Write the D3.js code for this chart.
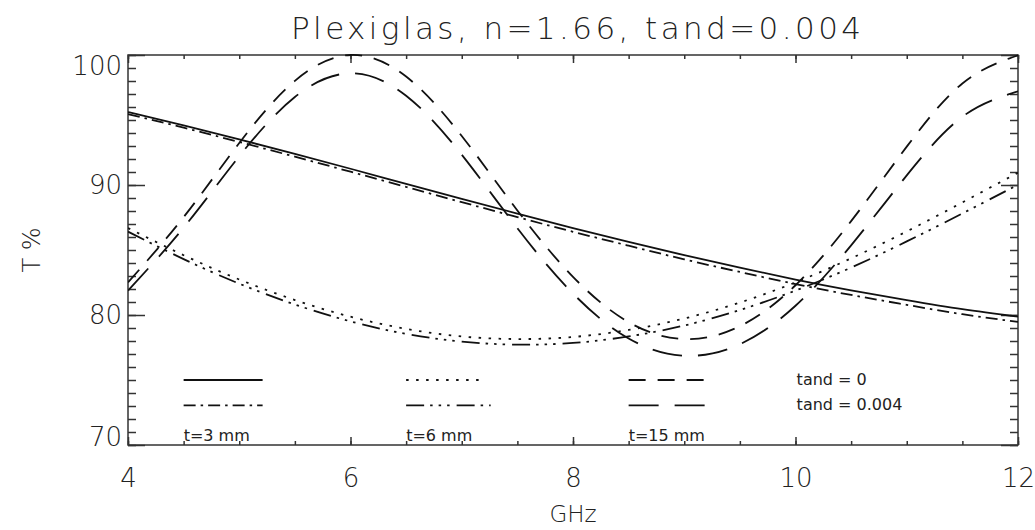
<!DOCTYPE html>
<html>
<head>
<meta charset="utf-8">
<script src="https://cdn.jsdelivr.net/npm/d3@7"></script>
<style>
  body { margin: 0; background: #fff; }
  svg text { font-family: "DejaVu Sans", "Liberation Sans", sans-serif; fill: #222; }
</style>
</head>
<body>
<svg id="chart" width="1035" height="530"></svg>
<script>
// frequency grid (GHz) the curves were read at
const freq = [4, 4.5, 5, 5.5, 6, 6.5, 7, 7.5, 8, 8.5, 9, 9.5, 10, 10.5, 11, 11.5, 12];

// transmission T %
const t3Lossless = [95.61, 94.59, 93.51, 92.39, 91.25, 90.09, 88.94, 87.80, 86.69, 85.63, 84.60, 83.64, 82.73, 81.90, 81.15, 80.45, 79.87];
const t3Lossy = [95.45, 94.41, 93.31, 92.18, 91.02, 89.85, 88.68, 87.53, 86.40, 85.33, 84.28, 83.31, 82.38, 81.54, 80.78, 80.06, 79.47];
const t6Lossless = [86.69, 84.60, 82.73, 81.15, 79.87, 78.93, 78.35, 78.15, 78.31, 78.85, 79.73, 80.96, 82.51, 84.36, 86.43, 88.66, 90.95];
const t6Lossy = [86.41, 84.30, 82.41, 80.81, 79.51, 78.55, 77.95, 77.72, 77.85, 78.35, 79.19, 80.38, 81.88, 83.65, 85.66, 87.81, 90.02];
const t15Lossless = [82.51, 87.53, 93.23, 98.01, 100.0, 98.34, 93.77, 88.04, 82.94, 79.45, 78.15, 79.14, 82.29, 87.22, 92.95, 97.81, 99.98];
const t15Lossy = [81.88, 86.72, 92.21, 96.77, 98.59, 96.87, 92.33, 86.68, 81.65, 78.19, 76.87, 77.75, 80.71, 85.36, 90.74, 95.25, 97.20];

const xMajor = [4, 6, 8, 10, 12];
const yMajor = [70, 80, 90, 100];
const thicknessLabels = ["t=3 mm", "t=6 mm", "t=15 mm"];
const lossLabels = ["tand = 0", "tand = 0.004"];

const title = "Plexiglas, n=1.66, tand=0.004";

const series = [
  { values: t3Lossless, dash: null },
  { values: t3Lossy, dash: "12,5,2.5,5" },
  { values: t6Lossless, dash: "2.5,7.5" },
  { values: t6Lossy, dash: "18,6,2.5,6,2.5,6,2.5,7" },
  { values: t15Lossless, dash: "17,12" },
  { values: t15Lossy, dash: "30,16" },
];

const plotLeft = 128, plotRight = 1018, plotTop = 55, plotBottom = 445;

const svg = d3.select("#chart");

const x = d3.scaleLinear().domain([4, 12]).range([plotLeft, plotRight]);
const y = d3.scaleLinear().domain([70, 100]).range([plotBottom, plotTop]);

// title
svg.append("text")
  .attr("x", 576)
  .attr("y", 39)
  .attr("text-anchor", "middle")
  .attr("font-size", 31)
  .attr("font-weight", 200)
  .attr("textLength", 570)
  .attr("lengthAdjust", "spacing")
  .text(title);

// axes - ticks point inward like the original
const axisStyle = (g) => {
  g.select(".domain").remove();
  g.selectAll("line").attr("stroke", "#333").attr("stroke-width", 1.5);
  g.selectAll("text").attr("fill", "#222").attr("font-weight", 200);
};

const xMinor = d3.range(4, 12.01, 0.5);
const yMinor = d3.range(70, 100.01, 1);

// bottom
svg.append("g")
  .attr("transform", `translate(0,${plotBottom})`)
  .call(d3.axisBottom(x).tickValues(xMinor).tickSize(-4).tickFormat(""))
  .call(axisStyle);
svg.append("g")
  .attr("transform", `translate(0,${plotBottom})`)
  .call(d3.axisBottom(x).tickValues(xMajor).tickSize(-8).tickPadding(24).tickFormat(d3.format("d")))
  .call(axisStyle)
  .call((g) => g.selectAll("text").attr("font-size", 26).attr("font-family", "DejaVu Sans"));

// top
svg.append("g")
  .attr("transform", `translate(0,${plotTop})`)
  .call(d3.axisTop(x).tickValues(xMinor).tickSize(-4).tickFormat(""))
  .call(axisStyle);
svg.append("g")
  .attr("transform", `translate(0,${plotTop})`)
  .call(d3.axisTop(x).tickValues(xMajor).tickSize(-8).tickFormat(""))
  .call(axisStyle);

// left
svg.append("g")
  .attr("transform", `translate(${plotLeft},0)`)
  .call(d3.axisLeft(y).tickValues(yMinor).tickSize(-8).tickFormat(""))
  .call(axisStyle);
svg.append("g")
  .attr("transform", `translate(${plotLeft},0)`)
  .call(d3.axisLeft(y).tickValues(yMajor).tickSize(-17).tickPadding(6).tickFormat(d3.format("d")))
  .call(axisStyle)
  .call((g) => g.selectAll("text").attr("font-size", 26).attr("font-family", "DejaVu Sans")
    .attr("dy", (d) => d === 100 ? "0.75em" : d === 70 ? "0" : "0.32em"));

// right
svg.append("g")
  .attr("transform", `translate(${plotRight},0)`)
  .call(d3.axisRight(y).tickValues(yMinor).tickSize(-8).tickFormat(""))
  .call(axisStyle);
svg.append("g")
  .attr("transform", `translate(${plotRight},0)`)
  .call(d3.axisRight(y).tickValues(yMajor).tickSize(-17).tickFormat(""))
  .call(axisStyle);

// frame
svg.append("rect")
  .attr("x", plotLeft).attr("y", plotTop)
  .attr("width", plotRight - plotLeft).attr("height", plotBottom - plotTop)
  .attr("fill", "none").attr("stroke", "#333").attr("stroke-width", 1.5);

// axis titles
svg.append("text")
  .attr("x", x(8))
  .attr("y", 522)
  .attr("text-anchor", "middle")
  .attr("font-size", 23)
  .attr("font-weight", 200)
  .text("GHz");

svg.append("text")
  .attr("transform", `translate(40,${y(85)}) rotate(-90)`)
  .attr("text-anchor", "middle")
  .attr("font-size", 24)
  .attr("font-weight", 200)
  .text("T %");

// curves
svg.append("clipPath").attr("id", "plot-clip")
  .append("rect")
  .attr("x", plotLeft).attr("y", plotTop - 1)
  .attr("width", plotRight - plotLeft).attr("height", plotBottom - plotTop + 1);

const line = d3.line()
  .x((d) => x(d[0]))
  .y((d) => y(d[1]))
  .curve(d3.curveNatural);

svg.append("g")
  .attr("clip-path", "url(#plot-clip)")
  .selectAll("path")
  .data(series)
  .join("path")
  .attr("d", (s) => line(freq.map((f, i) => [f, s.values[i]])))
  .attr("fill", "none")
  .attr("stroke", "#111")
  .attr("stroke-width", 1.8)
  .attr("stroke-dasharray", (s) => s.dash);

// legend (positions in data units)
const legendCols = [4.5, 6.5, 8.5];
const legendRowY = [75.0, 73.05];
const legendLen = [0.71, 0.69, 0.71];
const legend = svg.append("g");

legendCols.forEach((cx, c) => {
  [0, 1].forEach((r) => {
    const s = series[c * 2 + r];
    legend.append("line")
      .attr("x1", x(cx))
      .attr("x2", x(cx + legendLen[c] + (c === 1 && r === 1 ? 0.07 : 0)))
      .attr("y1", y(legendRowY[r]))
      .attr("y2", y(legendRowY[r]))
      .attr("stroke", "#111")
      .attr("stroke-width", 1.8)
      .attr("stroke-dasharray", s.dash);
  });
  legend.append("text")
    .attr("x", x(cx))
    .attr("y", y(70.3))
    .attr("font-size", 16)
    .text(thicknessLabels[c]);
});

lossLabels.forEach((t, r) => {
  legend.append("text")
    .attr("x", x(10.01))
    .attr("y", y(legendRowY[r]) + 5)
    .attr("font-size", 16)
    .attr("xml:space", "preserve")
    .text(t);
});
</script>
</body>
</html>
